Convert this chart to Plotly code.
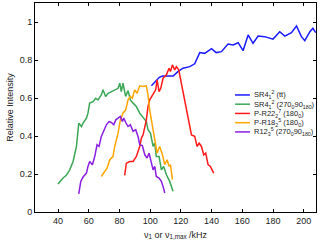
import plotly.graph_objects as go

blue_x = [100.8, 104, 106, 108, 115, 118, 121.4, 125.8, 129, 132.3, 135.5, 140, 143, 146.4, 150.7, 154, 157.3, 160.5, 163.8, 167, 170.3, 174.6, 180, 184.4, 187.7, 192, 195.3, 198.5, 200.7, 204, 206, 207.8]
blue_y = [0.664, 0.695, 0.709, 0.716, 0.716, 0.739, 0.757, 0.765, 0.78, 0.839, 0.835, 0.86, 0.839, 0.844, 0.884, 0.879, 0.891, 0.849, 0.932, 0.888, 0.926, 0.923, 0.91, 0.949, 0.926, 0.944, 0.979, 0.923, 0.902, 0.949, 0.967, 0.944]

green_x = [40, 43.3, 45.4, 47.6, 49.8, 52, 53.5, 55.2, 56.3, 58.5, 59.5, 60.6, 62.8, 64.5, 66, 68.2, 69.3, 71, 72.6, 74.7, 76.9, 79.1, 80.2, 81.2, 82.3, 84, 85.6, 87.1, 88.9, 91, 93.2, 95.4, 97.5, 98.6, 100.2, 101.9, 103, 104, 105.8, 107.3, 108.8, 110.6, 112.7, 114.9]
green_y = [0.147, 0.179, 0.193, 0.222, 0.266, 0.345, 0.468, 0.45, 0.468, 0.494, 0.52, 0.573, 0.581, 0.599, 0.59, 0.616, 0.643, 0.608, 0.625, 0.634, 0.646, 0.651, 0.678, 0.634, 0.678, 0.608, 0.639, 0.59, 0.573, 0.555, 0.52, 0.494, 0.476, 0.433, 0.415, 0.345, 0.362, 0.292, 0.292, 0.222, 0.24, 0.196, 0.161, 0.109]

red_x = [83.4, 84.5, 86.7, 88.9, 91, 92.1, 93.2, 94.3, 95.4, 97.5, 98.6, 99.7, 101.9, 103.6, 104.5, 105.8, 106.9, 108.4, 110.6, 112.3, 113.2, 114.5, 116, 117.1, 118.6, 120.3, 122.5, 124.7, 126.9, 129, 130.6, 131.9, 133.4, 134.9, 136.2, 137.7, 139.2, 141.4]
red_y = [0.193, 0.257, 0.266, 0.266, 0.292, 0.319, 0.345, 0.389, 0.406, 0.485, 0.555, 0.59, 0.616, 0.643, 0.695, 0.634, 0.651, 0.704, 0.722, 0.757, 0.739, 0.774, 0.748, 0.765, 0.748, 0.678, 0.599, 0.494, 0.406, 0.398, 0.345, 0.362, 0.345, 0.301, 0.31, 0.249, 0.24, 0.205]

orange_x = [68.2, 70.4, 71.9, 73.7, 75.8, 76.9, 79.1, 80.6, 82.3, 84.1, 85.6, 87.1, 88.4, 89.9, 91.5, 93.2, 95.4, 97.5, 98.6, 99.7, 101.5, 103, 104.5, 106.2, 108, 109.5, 111, 112.3, 113.2, 114.5]
orange_y = [0.187, 0.214, 0.231, 0.275, 0.292, 0.345, 0.415, 0.485, 0.52, 0.538, 0.59, 0.608, 0.599, 0.643, 0.625, 0.664, 0.66, 0.664, 0.616, 0.538, 0.459, 0.38, 0.31, 0.345, 0.301, 0.249, 0.275, 0.24, 0.249, 0.17]

purple_x = [53.5, 54.8, 56.3, 58.5, 59.5, 60.6, 62.4, 63.9, 65.4, 66.7, 68.2, 69.7, 71.5, 73.2, 74.7, 76.3, 77.6, 79.1, 80.6, 81.9, 82.8, 84.1, 85.6, 87.1, 88.9, 90.6, 92.1, 93.2, 94.9, 96.5, 98, 99.3, 100.8, 101.9, 103, 104, 105.8, 107.3, 108.4, 109.5]
purple_y = [0.095, 0.161, 0.184, 0.205, 0.24, 0.266, 0.249, 0.292, 0.354, 0.345, 0.398, 0.424, 0.459, 0.476, 0.471, 0.459, 0.485, 0.494, 0.503, 0.476, 0.494, 0.471, 0.45, 0.459, 0.424, 0.433, 0.398, 0.354, 0.35, 0.301, 0.284, 0.31, 0.257, 0.222, 0.24, 0.187, 0.179, 0.161, 0.135, 0.1]

names = [
    "SR4<sub>1</sub><sup>2</sup> (tt)",
    "SR4<sub>1</sub><sup>2</sup> (270<sub>0</sub>90<sub>180</sub>)",
    "P-R22<sub>2</sub><sup>7</sup> (180<sub>0</sub>)",
    "P-R18<sub>2</sub><sup>5</sup> (180<sub>0</sub>)",
    "R12<sub>3</sub><sup>5</sup> (270<sub>0</sub>90<sub>180</sub>)",
]
colors = ["#1a1aff", "#3aa655", "#ff1a1a", "#ffa500", "#8a1ee0"]
series = [(blue_x, blue_y), (green_x, green_y), (red_x, red_y), (orange_x, orange_y), (purple_x, purple_y)]

fig = go.Figure()
for (xs, ys), c, n in zip(series, colors, names):
    fig.add_trace(go.Scatter(x=xs, y=ys, mode="lines", name=n,
                             line=dict(color=c, width=1.5), showlegend=False))

# custom compact legend
lx0, lx1, ltx = 0.712, 0.765, 0.772
ly_top, dy = 0.56, 0.0442
for i, (c, n) in enumerate(zip(colors, names)):
    yy = ly_top - i * dy
    fig.add_shape(type="line", xref="paper", yref="paper", x0=lx0, x1=lx1, y0=yy, y1=yy,
                  line=dict(color=c, width=1.5))
    fig.add_annotation(xref="paper", yref="paper", x=ltx, y=yy, text=n, showarrow=False,
                       xanchor="left", yanchor="middle", font=dict(size=7.5, color="#222"))

axis_common = dict(showline=True, linecolor="black", linewidth=1, mirror="ticks",
                   ticks="inside", ticklen=3, tickcolor="black", showgrid=False,
                   zeroline=False, tickfont=dict(size=9, color="#222"))
fig.update_xaxes(range=[25, 208], tickvals=[40, 60, 80, 100, 120, 140, 160, 180, 200],
                 title=dict(text="ν<sub>1</sub> or ν<sub>1,max</sub> /kHz", font=dict(size=9, color="#222"), standoff=6),
                 **axis_common)
fig.update_yaxes(range=[0, 1.1], tickvals=[0, 0.2, 0.4, 0.6, 0.8, 1],
                 ticktext=["0", "0.2", "0.4", "0.6", "0.8", "1"],
                 title=dict(text="Relative Intensity", font=dict(size=9, color="#222"), standoff=4),
                 **axis_common)
fig.update_layout(width=320, height=244, margin=dict(l=35, r=4, t=3, b=32),
                  plot_bgcolor="white", paper_bgcolor="white",
                  font=dict(family="Liberation Sans, Arial, sans-serif"))
fig.write_html("out.html", config={"displayModeBar": False},
               post_script="document.body.style.margin='0';document.body.style.overflow='hidden';")
